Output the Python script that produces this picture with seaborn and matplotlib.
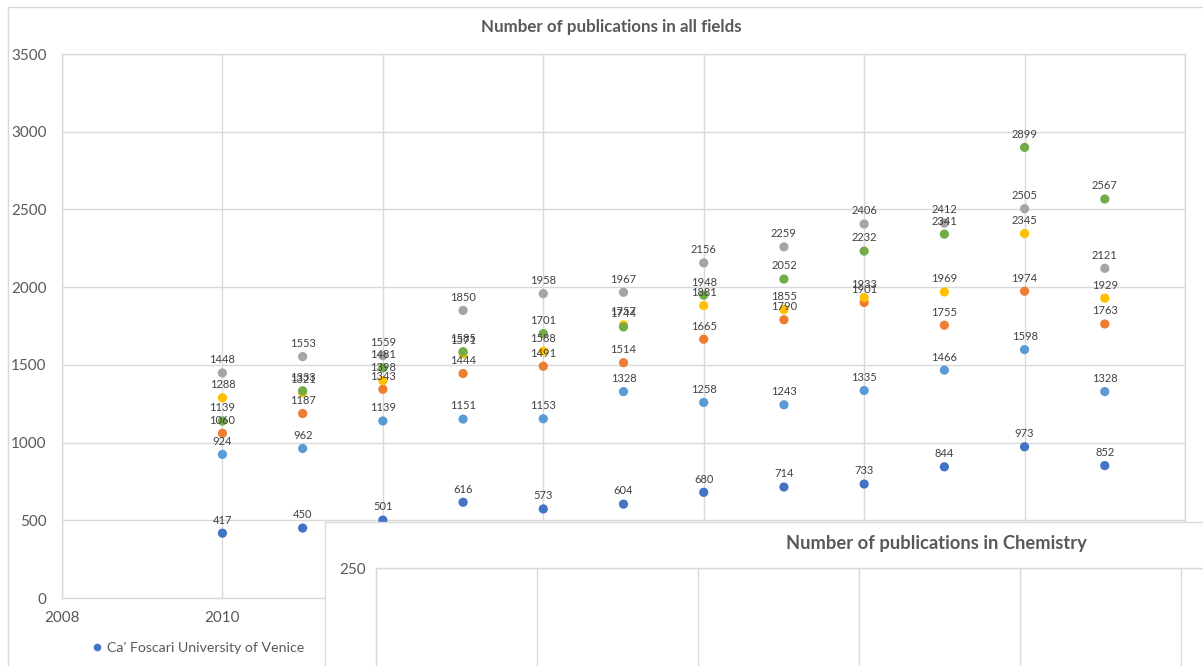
import numpy as np
import pandas as pd
import matplotlib
matplotlib.use("Agg")
import matplotlib.pyplot as plt
from matplotlib.patches import Rectangle
from matplotlib.lines import Line2D
import seaborn as sns

# ---- data -----------------------------------------------------------------
years = [2010, 2011, 2012, 2013, 2014, 2015, 2016, 2017, 2018, 2019, 2020, 2021]

series_names = [
    "Ca' Foscari University of Venice",
    "University 2",
    "University 3",
    "University 4",
    "University 5",
    "University 6",
]

ca_foscari = [417, 450, 501, 616, 573, 604, 680, 714, 733, 844, 973, 852]
univ_2 = [1060, 1187, 1343, 1444, 1491, 1514, 1665, 1790, 1901, 1755, 1974, 1763]
univ_3 = [1448, 1553, 1559, 1850, 1958, 1967, 2156, 2259, 2406, 2412, 2505, 2121]
univ_4 = [1288, 1321, 1398, 1571, 1588, 1757, 1881, 1855, 1933, 1969, 2345, 1929]
univ_5 = [924, 962, 1139, 1151, 1153, 1328, 1258, 1243, 1335, 1466, 1598, 1328]
univ_6 = [1139, 1333, 1481, 1585, 1701, 1744, 1948, 2052, 2232, 2341, 2899, 2567]

series_values = [ca_foscari, univ_2, univ_3, univ_4, univ_5, univ_6]
series_colors = ["#4472C4", "#ED7D31", "#A5A5A5", "#FFC000", "#5B9BD5", "#70AD47"]

main_title = "Number of publications in all fields"
inset_title = "Number of publications in Chemistry"
y_ticks_main = [0, 500, 1000, 1500, 2000, 2500, 3000, 3500]
x_ticks = [2008, 2010, 2012, 2014, 2016, 2018, 2020, 2022]
inset_top_tick = 250

# ---- long-form table ------------------------------------------------------
df = pd.DataFrame(
    [(y, name, v) for name, vals in zip(series_names, series_values)
     for y, v in zip(years, vals)],
    columns=["year", "university", "publications"],
)

# ---- figure ---------------------------------------------------------------
sns.set_theme(style="white")
plt.rcParams["font.family"] = ["Lato", "DejaVu Sans"]

W, H = 1203, 666
fig = plt.figure(figsize=(W / 100, H / 100), dpi=100)
fig.patch.set_facecolor("white")

TXT = "#595959"
GRID = "#D9D9D9"

# outer chart frame
fig.add_artist(Rectangle((8 / W, -0.1), 1.2, (1 - 7 / H) + 0.1,
                         transform=fig.transFigure, fill=False,
                         edgecolor=GRID, linewidth=1.0, zorder=0))

# main plot area
ax = fig.add_axes([62 / W, 1 - 598 / H, (1185 - 62) / W, (598 - 54) / H])
sns.scatterplot(data=df, x="year", y="publications", hue="university",
                hue_order=series_names, palette=series_colors,
                s=44, edgecolor="none", legend=False, ax=ax, zorder=3)

for name, vals in zip(series_names, series_values):
    for yr, v in zip(years, vals):
        ax.annotate(f"{v}", (yr, v), xytext=(0, 5.5), textcoords="offset points",
                    ha="center", va="bottom", fontsize=8, color="#404040",
                    zorder=4)

ax.set_xlim(2008, 2022)
ax.set_ylim(0, 3500)
ax.set_xticks(x_ticks)
ax.set_yticks(y_ticks_main)
ax.set_xlabel("")
ax.set_ylabel("")
ax.grid(True, color=GRID, linewidth=1.0)
ax.set_axisbelow(True)
for sp in ax.spines.values():
    sp.set_visible(True)
    sp.set_color(GRID)
    sp.set_linewidth(1.0)
ax.tick_params(axis="both", length=0, labelsize=11, labelcolor=TXT)
ax.tick_params(axis="y", pad=11)
ax.tick_params(axis="x", pad=9)

fig.text(611 / W, 1 - 27 / H, main_title, ha="center", va="center",
         fontsize=12.2, fontweight="bold", color=TXT)

# legend (first entry)
handle = Line2D([], [], marker="o", linestyle="none", markersize=5.5,
                markerfacecolor=series_colors[0], markeredgecolor="none")
fig.legend([handle], [series_names[0]], loc="center left",
           bbox_to_anchor=(83 / W, 1 - 648 / H), frameon=False,
           fontsize=10.2, labelcolor=TXT, handletextpad=0.1,
           borderaxespad=0, handlelength=1.2)

# ---- chemistry chart, overlapping the lower right -------------------------
frame = fig.add_axes([325 / W, 1 - 690 / H, (1215 - 325) / W, (690 - 522) / H],
                     zorder=5)
frame.set_facecolor("white")
frame.set_xticks([])
frame.set_yticks([])
for sp in frame.spines.values():
    sp.set_color(GRID)
    sp.set_linewidth(1.0)

inset = fig.add_axes([376 / W, 1 - 1118 / H, 7 * 161 / W, 550 / H], zorder=6)
inset.set_facecolor("none")
inset.set_xlim(2008, 2022)
inset.set_ylim(0, 250)
inset.set_xticks(x_ticks)
inset.set_yticks([inset_top_tick])
inset.set_xticklabels([])
inset.grid(True, color=GRID, linewidth=1.0)
for sp in inset.spines.values():
    sp.set_color(GRID)
    sp.set_linewidth(1.0)
inset.tick_params(axis="both", length=0, labelsize=11, labelcolor=TXT)
inset.tick_params(axis="y", pad=7)

fig.text(936 / W, 1 - 543 / H, inset_title, ha="center", va="center",
         fontsize=13.2, fontweight="bold", color=TXT, zorder=7)

fig.savefig("out.png", dpi=100)
